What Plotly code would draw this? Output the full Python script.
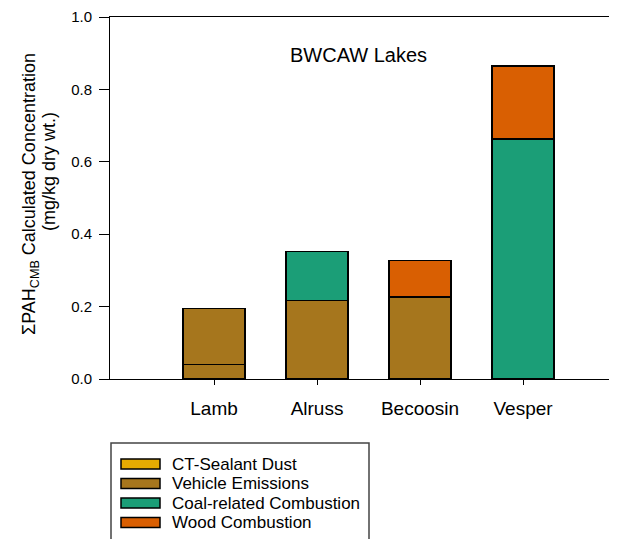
import plotly.graph_objects as go

lakes = ["Lamb", "Alruss", "Becoosin", "Vesper"]
series_names = ["CT-Sealant Dust", "Vehicle Emissions", "Coal-related Combustion", "Wood Combustion"]
series_colors = ["#E6AB02", "#A6761D", "#1B9E77", "#D95F02"]

ct_sealant = [None, None, None, None]
vehicle_lower = [0.040, 0.217, 0.226, None]
vehicle_upper = [0.155, None, None, None]
coal = [None, 0.135, None, 0.663]
wood = [None, None, 0.101, 0.202]

y_ticks = [0.0, 0.2, 0.4, 0.6, 0.8, 1.0]
chart_title = "BWCAW Lakes"

W, H = 617, 539
OFF = 8  # page body margin
L, T, B = 102, 9, 168
R = 0
PW = W - L - R
PH = H - T - B
X_MIN = -1.01
X_MAX = X_MIN + PW / 103.0


def px(x):
    return (x - OFF - L) / PW


def py(y):
    return (H - B - (y - OFF)) / PH


fig = go.Figure()
stack = [
    ("CT-Sealant Dust", ct_sealant, series_colors[0]),
    ("Vehicle Emissions", vehicle_lower, series_colors[1]),
    ("Vehicle Emissions", vehicle_upper, series_colors[1]),
    ("Coal-related Combustion", coal, series_colors[2]),
    ("Wood Combustion", wood, series_colors[3]),
]
for name, vals, col in stack:
    fig.add_trace(go.Bar(
        x=lakes, y=vals, name=name, showlegend=False,
        marker=dict(color=col, line=dict(color="black", width=1.5)),
        width=0.6,
    ))

font = "Arial, Liberation Sans, sans-serif"
fig.update_layout(
    width=W, height=H, barmode="stack",
    margin=dict(l=L, r=R, t=T, b=B, autoexpand=False),
    plot_bgcolor="white", paper_bgcolor="white",
    font=dict(family=font, color="black", size=15),
    xaxis=dict(range=[X_MIN, X_MAX], showline=True, linecolor="black", linewidth=1,
               mirror=True, ticks="outside", ticklen=5, tickcolor="black",
               tickfont=dict(size=19), showgrid=False, zeroline=False,
               ticklabelstandoff=7),
    yaxis=dict(range=[0, 1.0], showline=True, linecolor="black", linewidth=1,
               ticks="outside", ticklen=10, tickcolor="black", tickvals=y_ticks,
               tickformat=".1f", showgrid=False, zeroline=False,
               tickfont=dict(size=15), ticklabelstandoff=4),
)

annotations = [
    dict(text=chart_title, x=px(358), y=py(55), xref="paper", yref="paper",
         showarrow=False, font=dict(size=20), xanchor="center", yanchor="middle"),
    dict(text="ΣPAH<sub>CMB</sub> Calculated Concentration", x=px(30), y=py(194),
         xref="paper", yref="paper", showarrow=False, textangle=-90,
         font=dict(size=18), xanchor="center", yanchor="middle"),
    dict(text="(mg/kg dry wt.)", x=px(49), y=py(172),
         xref="paper", yref="paper", showarrow=False, textangle=-90,
         font=dict(size=18), xanchor="center", yanchor="middle"),
]
shapes = [
    dict(type="rect", xref="paper", yref="paper", x0=px(111), x1=px(369),
         y0=py(570), y1=py(443), line=dict(color="#444444", width=1.5),
         fillcolor="rgba(0,0,0,0)", layer="above"),
]
for i, (nm, col) in enumerate(zip(series_names, series_colors)):
    yc = 464 + i * 19.5
    shapes.append(dict(type="rect", xref="paper", yref="paper",
                       x0=px(121), x1=px(160), y0=py(yc + 5), y1=py(yc - 5),
                       fillcolor=col, line=dict(color="black", width=1.5)))
    annotations.append(dict(text=nm, x=px(170), y=py(yc), xref="paper", yref="paper",
                            showarrow=False, xanchor="left", yanchor="middle",
                            font=dict(size=17)))
fig.update_layout(annotations=annotations, shapes=shapes)

fig.write_html("out.html")
